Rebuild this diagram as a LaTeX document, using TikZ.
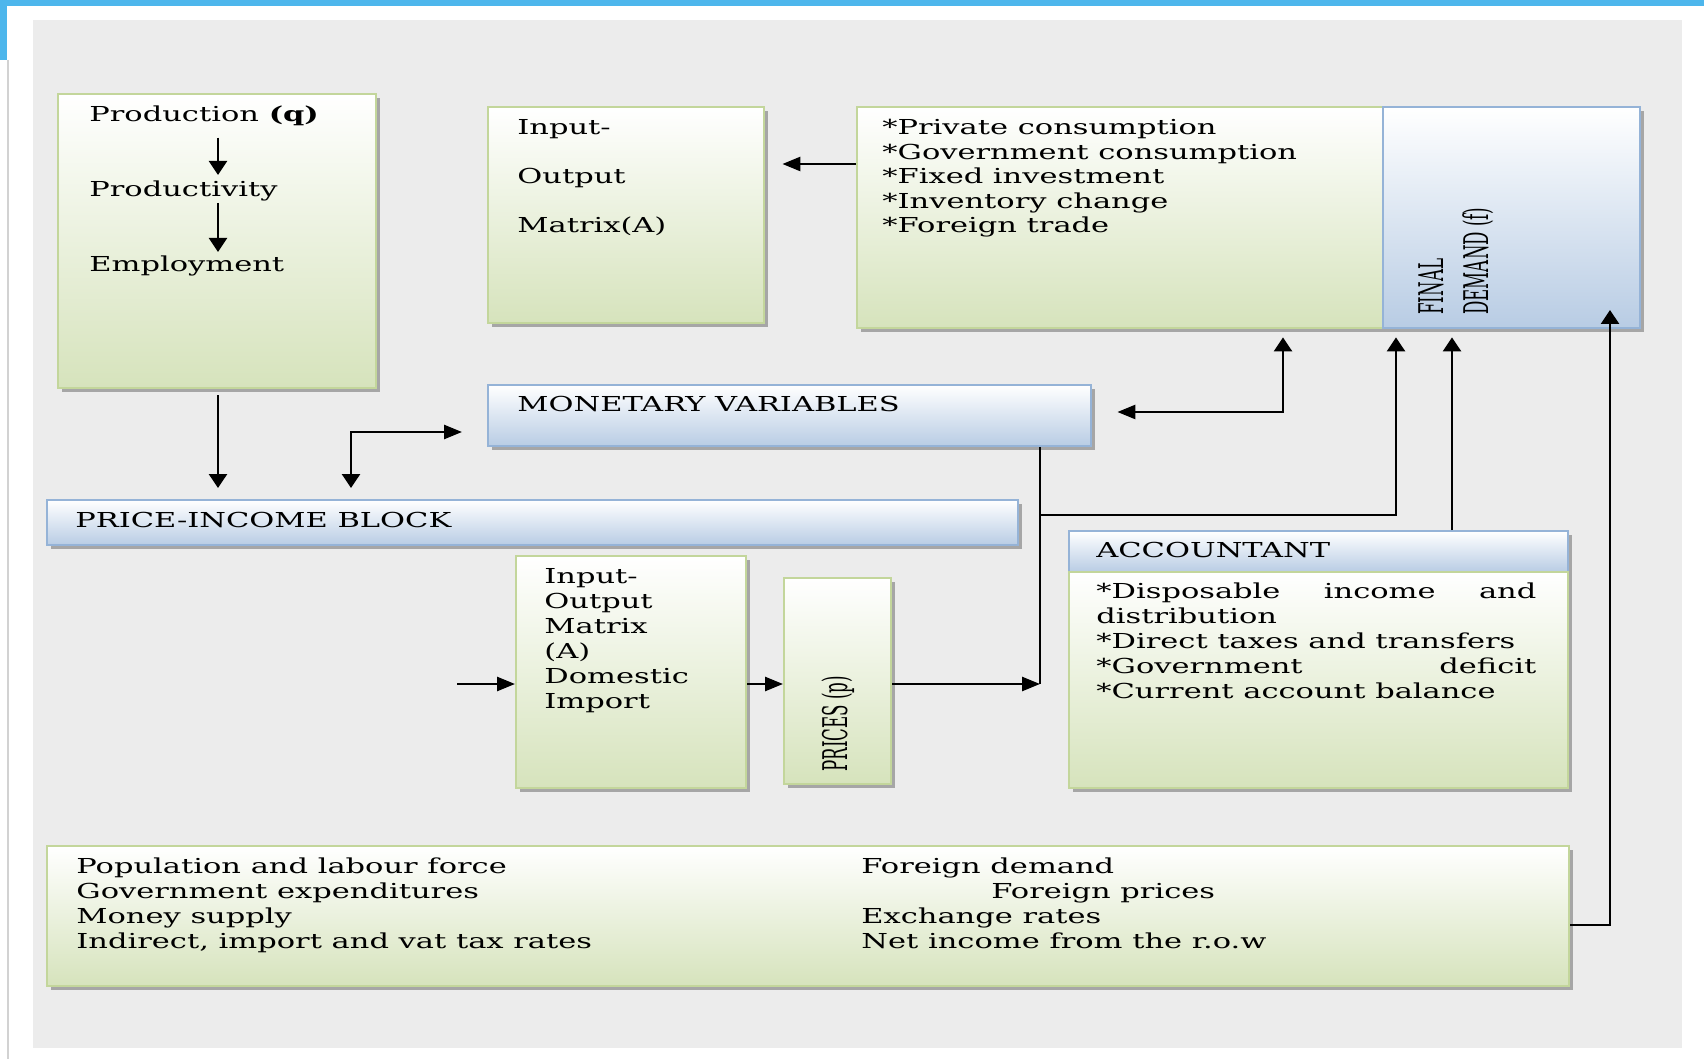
\documentclass[tikz,border=0pt]{standalone}
\usepackage{fontspec}
\setmainfont[FakeStretch=1.48]{DejaVu Serif}
\newfontfamily\sidefont[FakeStretch=0.49]{DejaVu Serif}
\usetikzlibrary{arrows.meta}
\usetikzlibrary{shadows}
\usetikzlibrary{positioning}

\definecolor{boxgreen}{HTML}{D6E3BC}
\definecolor{linegreen}{HTML}{C3D69B}
\definecolor{boxblue}{HTML}{B8CCE4}
\definecolor{lineblue}{HTML}{95B3D7}
\definecolor{panelgray}{HTML}{ECECEC}
\definecolor{topblue}{HTML}{4DB6EC}

\tikzset{
  vtip/.tip={Triangle[length=7pt,width=9pt]},
  htip/.tip={Triangle[length=9pt,width=7pt]},
  block/.style={anchor=north west, inner sep=0pt, line width=1.2pt,
    drop shadow={shadow xshift=1.8pt,shadow yshift=-1.8pt,fill=gray!70,opacity=1}},
  greenbox/.style={block, draw=linegreen, top color=white, bottom color=boxgreen},
  bluebox/.style={block, draw=lineblue, top color=white, bottom color=boxblue},
  txt/.style={anchor=base west, inner sep=0pt, align=left,
    font=\fontsize{10.3}{12.5}\selectfont},
  sidetxt/.style={anchor=base west, inner sep=0pt, align=left, rotate=90,
    font=\sidefont\fontsize{17}{22.5}\selectfont},
  ln/.style={line width=1.3pt},
  varr/.style={ln, -vtip},
  harr/.style={ln, -htip},
}

\begin{document}
\begin{tikzpicture}[x=0.5pt, y=-0.5pt]
  \useasboundingbox (0,0) rectangle (1704,1059);
  \fill[white] (0,0) rectangle (1704,1059);
  \fill[topblue] (0,0) rectangle (1704,6);
  \fill[topblue] (0,0) rectangle (7,60);
  \draw[gray!35, line width=0.8pt] (8,60) -- (8,1059);
  \fill[panelgray] (33,20) rectangle (1682,1048);

  % blocks
  \node[greenbox, minimum width=159pt, minimum height=147pt] (prod) at (57,93) {};
  \node[greenbox, minimum width=138pt, minimum height=108pt] (io) at (487,106) {};
  \node[greenbox, minimum width=263pt, minimum height=110.5pt] (fdlist) at (856,106) {};
  \node[bluebox, minimum width=128.5pt, minimum height=110.5pt] (fd) at (1382,106) {};
  \node[bluebox, minimum width=301.5pt, minimum height=30.5pt] (mon) at (487,384) {};
  \node[bluebox, minimum width=485.5pt, minimum height=22.5pt] (pib) at (46,499) {};
  \node[greenbox, minimum width=115pt, minimum height=116pt] (iodom) at (515,555) {};
  \node[greenbox, minimum width=53.5pt, minimum height=103pt] (prices) at (783,577) {};
  \node[bluebox, minimum width=249.5pt, minimum height=20.5pt] (acchead) at (1068,530) {};
  \node[greenbox, minimum width=249.5pt, minimum height=108pt] (accbody) at (1068,571) {};
  \node[greenbox, minimum width=761pt, minimum height=70pt] (exo) at (46,845) {};

  % texts (multi-line nodes sit on their last baseline)
  \node[txt] (p1) at (89,122) {Production \textbf{(q)}};
  \node[txt] (p2) at (89,197) {Productivity};
  \node[txt] (p3) at (89,272) {Employment};
  \node[txt, font=\fontsize{10.3}{24.5}\selectfont] (iotxt) at (517,233)
    {Input-\\Output\\Matrix(A)};
  \node[txt, font=\fontsize{10.3}{12.3}\selectfont] (fdtxt) at (882,233)
    {*Private consumption\\*Government consumption\\*Fixed investment\\*Inventory change\\*Foreign trade};
  \node[sidetxt] (fdtitle) at (1488,315) {FINAL\\DEMAND (f)};
  \node[txt] (montxt) at (517,412) {MONETARY VARIABLES};
  \node[txt] (pibtxt) at (75,527) {PRICE-INCOME BLOCK};
  \node[txt] (iodomtxt) at (544,708)
    {Input-\\Output\\Matrix\\(A)\\Domestic\\Import};
  \node[sidetxt] (pricestxt) at (847,772) {PRICES (p)};
  \node[txt] (acctxt) at (1096,557) {ACCOUNTANT};
  \node[txt] (accitems) at (1096,698)
    {\makebox[220pt][s]{*Disposable income and}\\distribution\\*Direct taxes and transfers\\
     \makebox[220pt][s]{*Government deficit}\\*Current account balance};
  \node[txt] (exoleft) at (76,948)
    {Population and labour force\\Government expenditures\\Money supply\\Indirect, import and vat tax rates};
  \node[txt] (exoright) at (861,948)
    {Foreign demand\\\hspace*{65pt}Foreign prices\\Exchange rates\\Net income from the r.o.w};

  % connectors
  \coordinate (pc) at (218,0);
  \coordinate (ec) at (351,432);
  \coordinate (fy) at (0,164);
  \coordinate (mc) at (1283,412);
  \coordinate (vx) at (1040,515);
  \coordinate (vb) at (1040,684);
  \coordinate (fx) at (1396,0);
  \coordinate (ax) at (1452,0);
  \coordinate (rc) at (1610,925);
  \coordinate (rt) at (1610,310);
  \coordinate (in) at (457,684);

  \draw[varr, shorten <=5.5pt, shorten >=3pt] (p1.south -| pc) -- (p2.north -| pc);
  \draw[varr, shorten <=0.5pt, shorten >=2pt] (p2.south -| pc) -- (p3.north -| pc);
  \draw[varr, shorten <=3pt, shorten >=5.5pt] (prod.south -| pc) -- (pib.north -| pc);
  \draw[ln, vtip-htip, shorten <=5.5pt, shorten >=12.5pt] (pib.north -| ec) -- (ec) -- (mon.west |- ec);
  \draw[harr, shorten >=8.5pt] (fdlist.west |- fy) -- (io.east |- fy);
  \draw[ln, vtip-htip, shorten <=4pt, shorten >=12.5pt] (fdlist.south -| mc) -- (mc) -- (mon.east |- mc);
  \draw[ln] (mon.south -| vx) -- (vb);
  \draw[varr, shorten >=4pt] (vx) -- (vx -| fx) -- (fd.south -| fx);
  \draw[harr] (prices.east |- vb) -- (vb);
  \draw[varr, shorten >=4pt] (acchead.north -| ax) -- (fd.south -| ax);
  \draw[varr] (exo.east |- rc) -- (rc) -- (rt);
  \draw[harr] (in) -- (iodom.west |- in);
  \draw[harr] (iodom.east |- in) -- (prices.west |- in);
\end{tikzpicture}
\end{document}
